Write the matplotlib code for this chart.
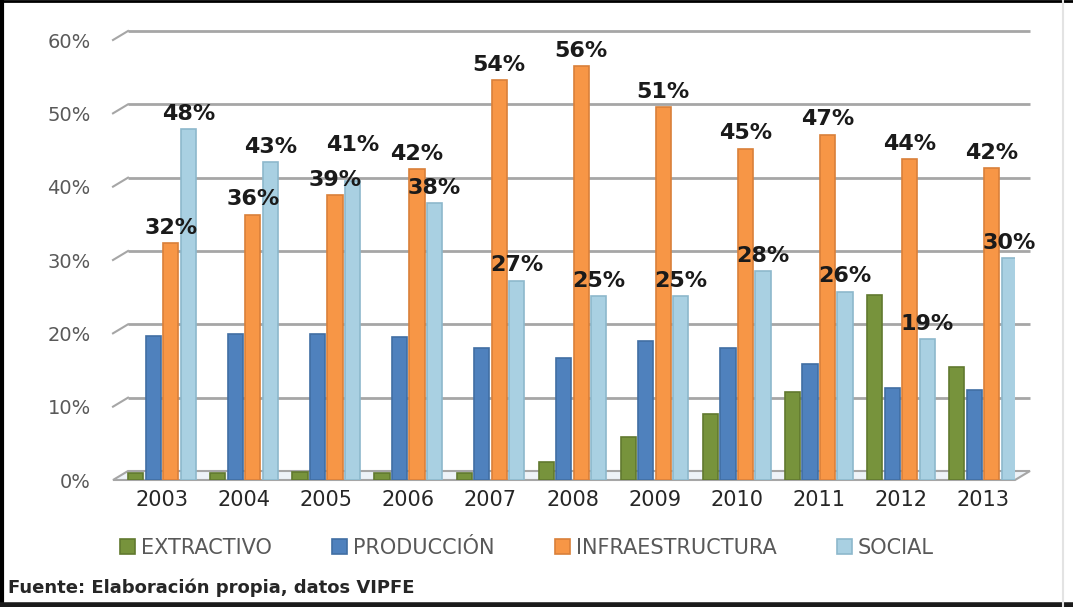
import numpy as np
import matplotlib.pyplot as plt
from matplotlib.transforms import ScaledTranslation
from matplotlib.lines import Line2D
from matplotlib.patches import Polygon

years = ['2003', '2004', '2005', '2006', '2007', '2008', '2009', '2010', '2011', '2012', '2013']
extractivo = [1.0, 1.0, 1.1, 0.9, 0.9, 2.5, 5.9, 9.0, 12.0, 25.2, 15.4]
produccion = [19.7, 19.9, 19.9, 19.5, 18.0, 16.7, 18.9, 18.0, 15.8, 12.6, 12.3]
infraestructura = [32.3, 36.2, 38.9, 42.4, 54.5, 56.4, 50.8, 45.2, 47.1, 43.8, 42.5]
social = [47.8, 43.4, 40.8, 37.8, 27.2, 25.1, 25.1, 28.5, 25.7, 19.2, 30.3]

series_names = ['EXTRACTIVO', 'PRODUCCIÓN', 'INFRAESTRUCTURA', 'SOCIAL']
series_vals = [extractivo, produccion, infraestructura, social]
colors = ['#77933C', '#4F81BD', '#F79646', '#A9D0E2']
edges = ['#61792F', '#416EA3', '#D9803A', '#8DB8CC']
labelled = [False, False, True, True]

W, H = 1073, 607
XL = (-0.597, 10.39)
fig = plt.figure(figsize=(W / 100, H / 100), dpi=100, facecolor='white')
ax = fig.add_axes([113 / W, 1 - 480 / H, (1015 - 113) / W, (480 - 40) / H])
ax.set_xlim(*XL)
ax.set_ylim(0, 60)
for s in ax.spines.values():
    s.set_visible(False)
ax.tick_params(length=0)

# back-wall gridlines, shifted up/right, with a short diagonal back to the axis
shift = ax.transData + ScaledTranslation(15 / 100, 9 / 100, fig.dpi_scale_trans)
for v in range(10, 70, 10):
    ax.plot(XL, [v, v], color='#A6A6A6', lw=2, transform=shift,
            solid_capstyle='butt', zorder=1, clip_on=False)
    x0 = ax.transData.transform((XL[0], v))
    fig.lines.append(Line2D([x0[0] / W, (x0[0] + 15) / W], [x0[1] / H, (x0[1] + 9) / H],
                            color='#A6A6A6', lw=1.5, transform=fig.transFigure))

# floor
p0 = ax.transData.transform((XL[0], 0))
p1 = ax.transData.transform((XL[1], 0))
fx = np.array([p0[0], p1[0], p1[0] + 15, p0[0] + 15])
fy = np.array([p0[1], p0[1], p0[1] + 9, p0[1] + 9])
ax.add_patch(Polygon(np.column_stack([fx / W, fy / H]), closed=True, facecolor='#EEF3F8',
                     edgecolor='#A6A6A6', lw=1.5, transform=fig.transFigure, zorder=0.5,
                     clip_on=False))

label_nudge = {(3, 2): 2.8}

x = np.arange(len(years))
step = 0.213
bw = 0.185
offs = [-1.5, -0.5, 0.5, 1.5]
for si, (vals, name, c, ec, off, lab) in enumerate(zip(series_vals, series_names, colors,
                                                       edges, offs, labelled)):
    ax.bar(x + off * step, vals, width=bw, color=c, edgecolor=ec, lw=1.2,
           label=name, zorder=3)
    if lab:
        for xi, v in zip(x, vals):
            ax.text(xi + off * step, v + 0.7 + label_nudge.get((si, xi), 0),
                    '%d%%' % round(v), ha='center', va='bottom',
                    fontsize=16, fontweight='bold', color='#1a1a1a', zorder=5)

ax.set_xticks(x)
ax.set_xticklabels(years, fontsize=15, color='#262626')
ax.set_yticks(range(0, 70, 10))
ax.set_yticklabels(['%d%%' % v for v in range(0, 70, 10)], fontsize=14, color='#595959')
ax.tick_params(axis='x', pad=7)
ax.tick_params(axis='y', pad=16)

fig.legend(loc='center', bbox_to_anchor=(527 / W, 1 - 548 / H), ncol=4, frameon=False,
           fontsize=15, handlelength=0.7, handleheight=0.7, handletextpad=0.3,
           columnspacing=2.9, labelcolor='#595959')

fig.text(8 / W, 1 - 588 / H, 'Fuente: Elaboración propia, datos VIPFE', fontsize=13,
         fontweight='bold', color='#262626', va='center', ha='left')

# outer frame: dark on left, top and bottom, faint on the right
fig.lines.append(Line2D([1.5 / W, 1.5 / W], [0, 1], color='black', lw=3, transform=fig.transFigure))
fig.lines.append(Line2D([0, 1], [1 - 1 / H, 1 - 1 / H], color='black', lw=2, transform=fig.transFigure))
fig.lines.append(Line2D([0, 1], [2 / H, 2 / H], color='#1a1a1a', lw=4, transform=fig.transFigure))
fig.lines.append(Line2D([1063 / W, 1063 / W], [0, 1], color='#E3E3E3', lw=1.5, transform=fig.transFigure))

fig.savefig('out.png', dpi=100, facecolor='white')
